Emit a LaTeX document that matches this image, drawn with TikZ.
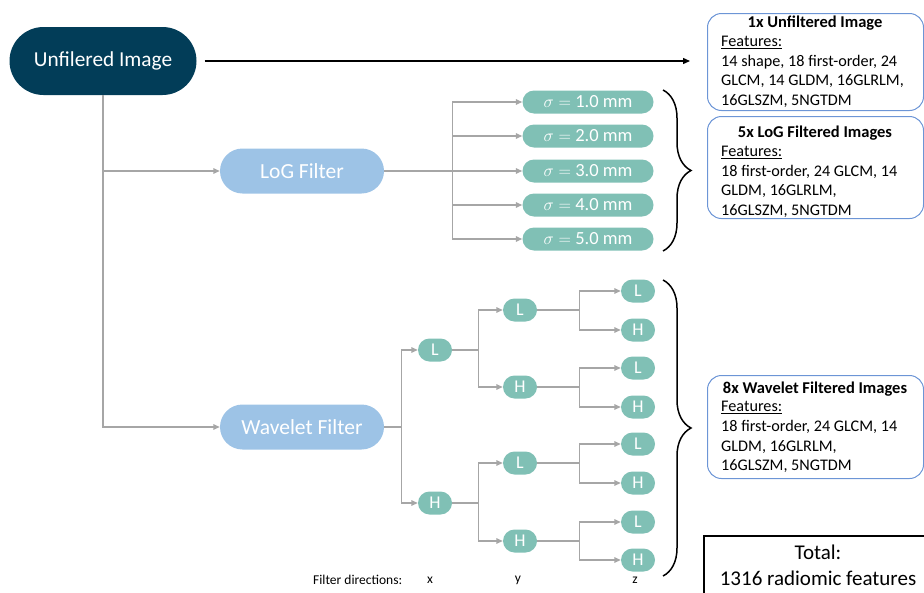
\documentclass[tikz,border=0pt]{standalone}
\usepackage{fontspec}
\setmainfont{Carlito}
\usetikzlibrary{arrows.meta,shapes.misc,decorations.pathreplacing}
\definecolor{navy}{HTML}{023D58}
\definecolor{lblue}{HTML}{9DC3E6}
\definecolor{teal2}{HTML}{80C0B5}
\definecolor{gline}{HTML}{A6A6A6}
\definecolor{bbord}{HTML}{6C95D6}
\tikzset{
  pill/.style={rounded rectangle, inner sep=0pt, text=white},
  ufnode/.style={pill, fill=navy, minimum width=187pt, minimum height=68pt, font=\fontsize{21.3}{24}\selectfont},
  filt/.style={pill, fill=lblue, minimum width=164pt, minimum height=45pt, font=\fontsize{21.5}{24}\selectfont},
  signode/.style={pill, fill=teal2, minimum width=131pt, minimum height=23pt, font=\fontsize{18.5}{20}\selectfont},
  lh/.style={pill, fill=teal2, minimum width=34pt, minimum height=23pt, font=\fontsize{18}{20}\selectfont},
  garrow/.style={draw=gline, line width=1.4pt, -{Triangle[length=6.5pt,width=5.5pt]}},
  barrow/.style={draw=black, line width=1.3pt, -{Triangle[length=7pt,width=6pt]}},
  fbox/.style={draw=bbord, line width=1pt, rounded corners=14pt, inner sep=0pt},
  ftitle/.style={font=\fontsize{16.5}{19}\selectfont\bfseries, inner sep=0pt},
  fbody/.style={font=\fontsize{16.2}{19.7}\selectfont, align=left, inner sep=0pt, anchor=north west},
  brc/.style={draw=black, line width=1.5pt, decorate, decoration={brace, amplitude=28pt, aspect=0.5}},
  dirlab/.style={font=\fontsize{13.5}{15}\selectfont, inner sep=0pt}
}
\begin{document}
\begin{tikzpicture}[x=1pt,y=-1pt]
\useasboundingbox (0,0) rectangle (924,592);

% main nodes
\node[ufnode] (uf) at (103,61) {Unfilered Image};
\node[filt] (log) at (302,171) {LoG Filter};
\node[filt] (wav) at (302,427) {Wavelet Filter};

% sigma nodes
\node[signode] (s1) at (588,102) {$\sigma=$ 1.0 mm};
\node[signode] (s2) at (588,136) {$\sigma=$ 2.0 mm};
\node[signode] (s3) at (588,171) {$\sigma=$ 3.0 mm};
\node[signode] (s4) at (588,205) {$\sigma=$ 4.0 mm};
\node[signode] (s5) at (588,239) {$\sigma=$ 5.0 mm};

% wavelet tree
\node[lh] (xL) at (435,350) {L};
\node[lh] (xH) at (435,503) {H};
\node[lh] (yLL) at (520,310) {L};
\node[lh] (yLH) at (520,387) {H};
\node[lh] (yHL) at (520,463) {L};
\node[lh] (yHH) at (520,541) {H};
\node[lh] (z1) at (638,291) {L};
\node[lh] (z2) at (638,330) {H};
\node[lh] (z3) at (638,368) {L};
\node[lh] (z4) at (638,407) {H};
\node[lh] (z5) at (638,444) {L};
\node[lh] (z6) at (638,483) {H};
\node[lh] (z7) at (638,522) {L};
\node[lh] (z8) at (638,560) {H};

% connectors
\coordinate (ufend) at (690,61);
\draw[barrow, shorten <=8pt] (uf.east) -- (ufend);
\draw[garrow] (uf.south) |- (log.west);
\draw[garrow] (uf.south) |- (wav.west);
\foreach \s in {s1,s2,s3,s4,s5}{
  \draw[garrow] (log.east) -- ++(68,0) |- (\s.west);
}
\draw[garrow] (wav.east) -- ++(17,0) |- (xL.west);
\draw[garrow] (wav.east) -- ++(17,0) |- (xH.west);
\draw[garrow] (xL.east) -- ++(26,0) |- (yLL.west);
\draw[garrow] (xL.east) -- ++(26,0) |- (yLH.west);
\draw[garrow] (xH.east) -- ++(26,0) |- (yHL.west);
\draw[garrow] (xH.east) -- ++(26,0) |- (yHH.west);
\draw[garrow] (yLL.east) -- ++(42,0) |- (z1.west);
\draw[garrow] (yLL.east) -- ++(42,0) |- (z2.west);
\draw[garrow] (yLH.east) -- ++(42,0) |- (z3.west);
\draw[garrow] (yLH.east) -- ++(42,0) |- (z4.west);
\draw[garrow] (yHL.east) -- ++(42,0) |- (z5.west);
\draw[garrow] (yHL.east) -- ++(42,0) |- (z6.west);
\draw[garrow] (yHH.east) -- ++(42,0) |- (z7.west);
\draw[garrow] (yHH.east) -- ++(42,0) |- (z8.west);

% braces
\draw[brc] (663,90) -- (663,251);
\draw[brc] (663,280) -- (663,576);

% feature boxes
\node[fbox, anchor=north west, minimum width=216pt, minimum height=97pt] (b1) at (707,13) {};
\node[ftitle] (t1) at (815,23) {1x Unfiltered Image};
\node[fbody] (d1) at (721,36) {\underline{Features:}\\14 shape, 18 first-order, 24\\GLCM, 14 GLDM, 16GLRLM,\\16GLSZM, 5NGTDM};

\node[fbox, anchor=north west, minimum width=216pt, minimum height=102pt] (b2) at (707,116) {};
\node[ftitle] (t2) at (815,133) {5x LoG Filtered Images};
\node[fbody] (d2) at (721,146) {\underline{Features:}\\18 first-order, 24 GLCM, 14\\GLDM, 16GLRLM,\\16GLSZM, 5NGTDM};

\node[fbox, anchor=north west, minimum width=216pt, minimum height=103pt] (b3) at (707,375) {};
\node[ftitle] (t3) at (815,389) {8x Wavelet Filtered Images};
\node[fbody] (d3) at (721,401) {\underline{Features:}\\18 first-order, 24 GLCM, 14\\GLDM, 16GLRLM,\\16GLSZM, 5NGTDM};

% total box
\node[draw=black, line width=2pt, anchor=north west, minimum width=240pt, minimum height=70pt, inner sep=0pt] (tot) at (703,535) {};
\node[font=\fontsize{21}{24}\selectfont, inner sep=0pt] (tt1) at (818,552) {Total:};
\node[font=\fontsize{21}{24}\selectfont, inner sep=0pt] (tt2) at (818,578) {1316 radiomic features};

% filter directions
\node[dirlab, anchor=west] (fd) at (313,580) {Filter directions:};
\node[dirlab] (dx) at (430,580) {x};
\node[dirlab] (dy) at (518,580) {y};
\node[dirlab] (dz) at (635,580) {z};
\end{tikzpicture}
\end{document}
